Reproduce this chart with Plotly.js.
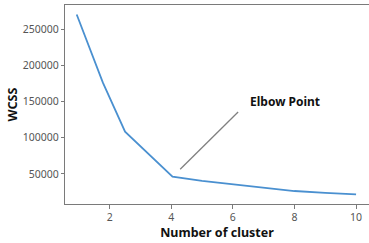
<!DOCTYPE html>
<html>
<head>
<meta charset="utf-8">
<script src="https://cdn.plot.ly/plotly-3.0.1.min.js"></script>
<style>html,body{margin:0;padding:0;background:#fff;}#chart{width:369px;height:243px;}</style>
</head>
<body>
<div id="chart"></div>
<script>
// Data
const clusters = [0.93, 1.78, 2.5, 4.04, 5, 6, 7, 8, 9, 10];
const wcss = [270000, 176000, 108300, 46300, 40500, 35700, 30500, 26500, 24000, 22000];
const xTicks = [2, 4, 6, 8, 10];
const yTicks = [50000, 100000, 150000, 200000, 250000];
const elbowLabel = "Elbow Point";
const elbowTail = [4.29, 56500];
const elbowHead = [6.17, 135500];
const elbowText = [6.48, 149700];

const font = 'Noto Sans, "Noto Sans CJK KR", sans-serif';
const traces = [
  {x: clusters, y: wcss, mode: 'lines', line: {color: '#4a90d0', width: 1.8}, hoverinfo: 'skip', showlegend: false},
  {x: [elbowTail[0], elbowHead[0]], y: [elbowTail[1], elbowHead[1]], mode: 'lines', line: {color: '#808080', width: 1.3}, hoverinfo: 'skip', showlegend: false}
];
const layout = {
  width: 369, height: 243,
  margin: {l: 65, r: 0, t: 5, b: 39},
  paper_bgcolor: '#fff', plot_bgcolor: '#fff',
  font: {family: font, color: '#444', size: 10.5},
  xaxis: {
    range: [0.55, 10.42], tickvals: xTicks, ticktext: xTicks.map(String),
    showgrid: false, zeroline: false, showline: true, mirror: true, linecolor: '#7a7a7a', linewidth: 1.2,
    ticks: 'outside', ticklen: 3.5, tickcolor: '#7a7a7a', tickfont: {size: 10.5, color: '#555'},
    title: {text: '<b>Number of cluster</b>', font: {size: 12.5, color: '#111'}, standoff: 5}
  },
  yaxis: {
    range: [8600, 283100], tickvals: yTicks, ticktext: yTicks.map(String),
    showgrid: false, zeroline: false, showline: true, linecolor: '#7a7a7a', linewidth: 1.2,
    ticks: 'outside', ticklen: 3, tickcolor: '#7a7a7a', tickfont: {size: 10.5, color: '#555'},
    title: {text: '<b>WCSS</b>', font: {size: 12.5, color: '#111'}, standoff: 2}
  },
  annotations: [
    {x: elbowText[0], y: elbowText[1], xref: 'x', yref: 'y', text: '<b>' + elbowLabel + '</b>', showarrow: false,
     xanchor: 'left', yanchor: 'middle', font: {size: 12, color: '#111', family: font}}
  ]
};
Plotly.newPlot('chart', traces, layout, {staticPlot: true, displayModeBar: false});
</script>
</body>
</html>
